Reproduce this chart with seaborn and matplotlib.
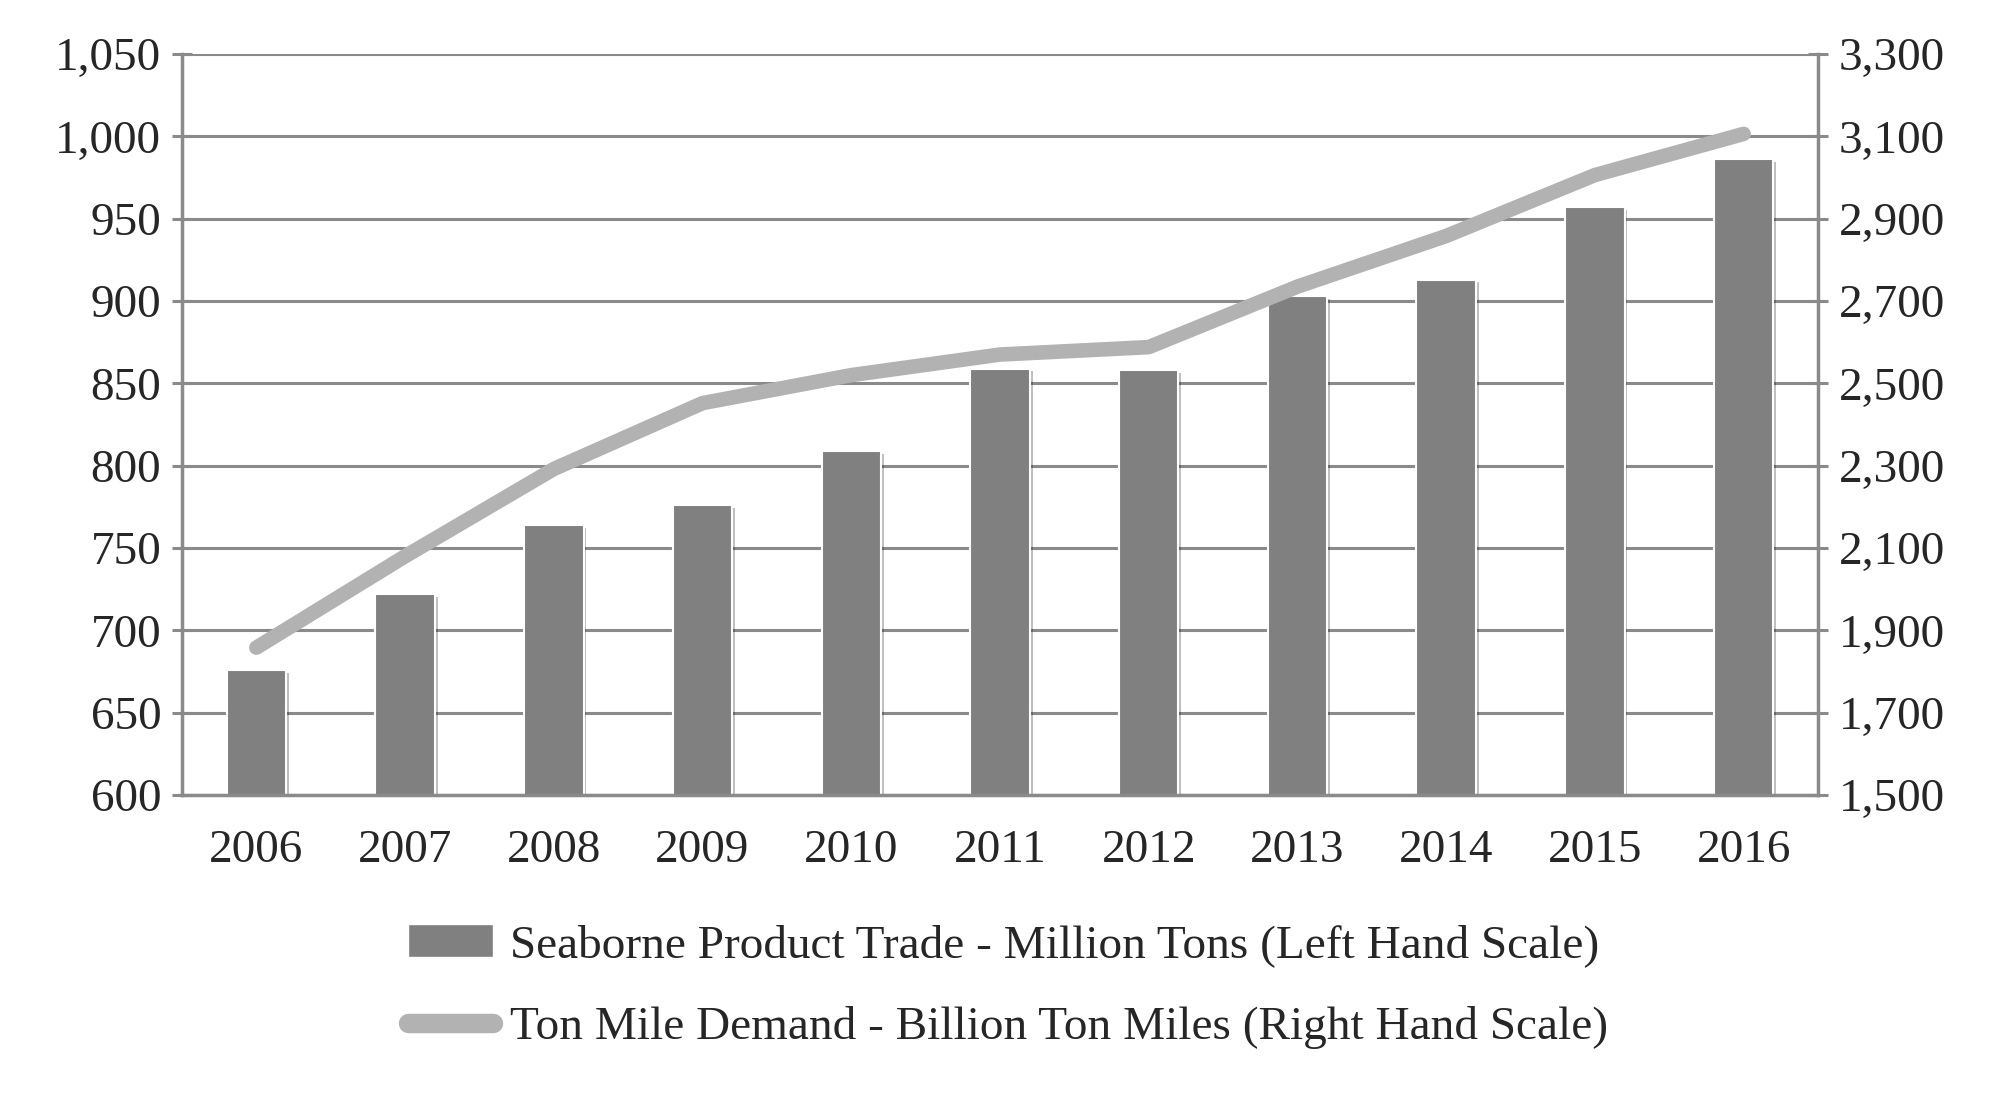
import numpy as np
import pandas as pd
import seaborn as sns
import matplotlib.pyplot as plt
import matplotlib.patheffects as pe
from matplotlib.patches import Patch
from matplotlib.lines import Line2D
from matplotlib.ticker import FuncFormatter, FixedLocator


years = ["2006", "2007", "2008", "2009", "2010", "2011", "2012", "2013", "2014", "2015", "2016"]
product_trade = [676, 722, 764, 776, 809, 859, 858, 903, 913, 957, 986]
ton_miles = [1858, 2080, 2292, 2452, 2520, 2570, 2588, 2735, 2858, 3006, 3106]

left_ticks = [600, 650, 700, 750, 800, 850, 900, 950, 1000, 1050]
right_ticks = [1500, 1700, 1900, 2100, 2300, 2500, 2700, 2900, 3100, 3300]

bar_label = "Seaborne Product Trade - Million Tons (Left Hand Scale)"
line_label = "Ton Mile Demand - Billion Ton Miles (Right Hand Scale)"

bar_color = "#808080"
line_color = "#b1b2b1"
grid_color = "#8a8a8a"

sns.set_theme(style="white")
plt.rcParams['font.family'] = ['Liberation Serif', 'DejaVu Serif']

df = pd.DataFrame({"year": years, "trade": product_trade, "tonmiles": ton_miles})

fig = plt.figure(figsize=(20, 10.94), dpi=100)
ax = fig.add_axes([0.091, 0.2733, 0.818, 0.6773])

sns.barplot(data=df, x="year", y="trade", color=bar_color, width=0.4,
            saturation=1, edgecolor="white", linewidth=1.5, ax=ax, zorder=2)
for p in ax.patches:
    p.set_path_effects([pe.SimplePatchShadow(offset=(2, -2), alpha=0.25, shadow_rgbFace="black"),
                        pe.Normal()])

ax.set_ylim(600, 1050)
ax.set_xlim(-0.5, len(years) - 0.5)
ax.set_yticks(left_ticks)
ax.yaxis.set_major_formatter(FuncFormatter(lambda v, _: f"{v:,.0f}"))
ax.set_axisbelow(True)
ax.grid(axis="y", color=grid_color, linewidth=2.2)
ax.grid(axis="x", visible=False)
ax.set_xlabel("")
ax.set_ylabel("")

ax2 = ax.twinx()
sns.lineplot(x=np.arange(len(years)), y=df["tonmiles"], color=line_color, linewidth=10.5,
             solid_capstyle="round", ax=ax2)
ax2.set_ylim(1500, 3300)
ax2.set_yticks(right_ticks)
ax2.yaxis.set_major_formatter(FuncFormatter(lambda v, _: f"{v:,.0f}"))
ax2.set_ylabel("")
ax2.grid(False)
ax2.set_xlim(-0.5, len(years) - 0.5)

for a in (ax, ax2):
    for s in a.spines.values():
        s.set_visible(False)
ax.spines["left"].set_visible(True)
ax.spines["bottom"].set_visible(True)
ax2.spines["right"].set_visible(True)
for s in (ax.spines["left"], ax.spines["bottom"], ax2.spines["right"]):
    s.set_color(grid_color)
    s.set_linewidth(2.5)

# x ticks sit on category boundaries
ax.xaxis.set_minor_locator(FixedLocator(np.arange(-0.5, len(years), 1.0)))
ax.tick_params(axis="x", which="major", length=0, pad=25, labelsize=34)
ax.tick_params(axis="x", which="minor", direction="out", length=9.5, width=2.2, color=grid_color)
ax.tick_params(axis="y", direction="inout", length=14, width=2.2, color=grid_color,
               labelsize=34, pad=8, left=True)
ax2.tick_params(axis="y", direction="inout", length=14, width=2.2, color=grid_color,
                labelsize=34, pad=8, right=True)

handles = [Patch(facecolor=bar_color, edgecolor="white", label=bar_label),
           Line2D([0], [0], color=line_color, linewidth=14, solid_capstyle="round", label=line_label)]
fig.legend(handles=handles, loc="upper center", bbox_to_anchor=(0.504, 0.194), ncol=1,
           frameon=False, fontsize=34, handlelength=1.8, handletextpad=0.35, labelspacing=0.82)

fig.savefig("out.png", dpi=100)
